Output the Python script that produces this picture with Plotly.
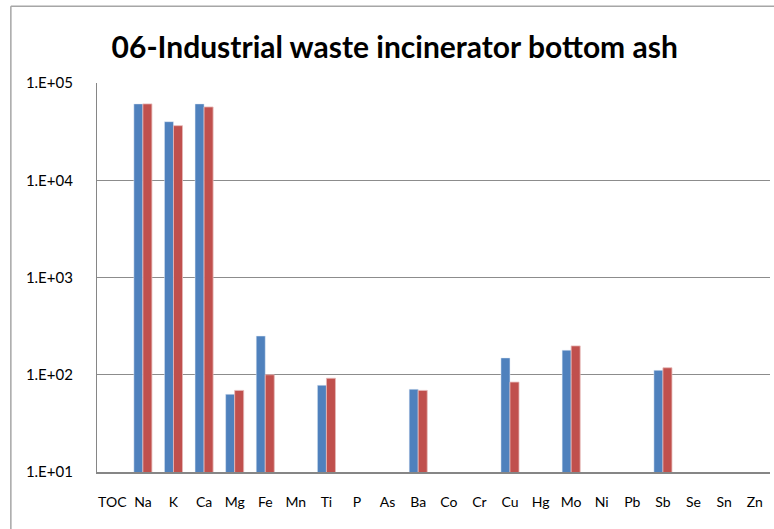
import plotly.graph_objects as go

# elements on the x axis
elements = ["TOC", "Na", "K", "Ca", "Mg", "Fe", "Mn", "Ti", "P", "As", "Ba",
            "Co", "Cr", "Cu", "Hg", "Mo", "Ni", "Pb", "Sb", "Se", "Sn", "Zn"]

# two series (None = no bar)
series_1 = [None, 61000, 40000, 61000, 63, 250, None, 78, None, None, 71,
            None, None, 149, None, 179, None, None, 111, None, None, None]
series_2 = [None, 61000, 36400, 56700, 69, 100, None, 92, None, None, 69,
            None, None, 84, None, 198, None, None, 118, None, None, None]

y_tickvals = [10, 100, 1000, 10000, 100000]
y_ticktext = ["1.E+01", "1.E+02", "1.E+03", "1.E+04", "1.E+05"]

fig = go.Figure()
fig.add_trace(go.Bar(x=elements, y=series_1, marker_color="#4F81BD", name="s1"))
fig.add_trace(go.Bar(x=elements, y=series_2, marker_color="#C0504D", name="s2",
                     marker_line=dict(color="#E6B9B8", width=0.8)))

fig.update_layout(
    width=774, height=529,
    margin=dict(l=97, r=4, t=83, b=57),
    plot_bgcolor="white", paper_bgcolor="white",
    barmode="group", bargap=0.41, bargroupgap=0,
    showlegend=False,
    font=dict(family="Lato", size=13, color="black"),
    title=dict(text="<b>06-Industrial waste incinerator bottom ash</b>",
               x=0.51, xanchor="center", y=0.911, yanchor="middle",
               font=dict(family="Lato", size=30, color="black")),
)
fig.update_xaxes(showline=True, linecolor="#868686", linewidth=1.5,
                 ticks="", showgrid=False, ticklabelstandoff=16,
                 tickfont=dict(size=14))
fig.update_yaxes(type="log", range=[1, 5], tickvals=y_tickvals, ticktext=y_ticktext,
                 showgrid=True, gridcolor="#8C8C8C", gridwidth=1.2,
                 showline=True, linecolor="#868686", linewidth=1.2,
                 ticks="", ticklabelstandoff=20, zeroline=False,
                 tickfont=dict(size=15))

# outer chart frame: only its left and top edges fall inside the picture
frame = dict(color="#A6A6A6", width=1.5)
fig.add_shape(type="line", xref="paper", yref="paper",
              x0=-0.128, y0=-0.2, x1=-0.128, y1=1.197, line=frame)
fig.add_shape(type="line", xref="paper", yref="paper",
              x0=-0.128, y0=1.197, x1=1.05, y1=1.197, line=frame)

fig.write_html("out.html", config={"displayModeBar": False},
               post_script="document.body.style.margin='0px';"
                           "document.body.style.overflow='hidden';")
